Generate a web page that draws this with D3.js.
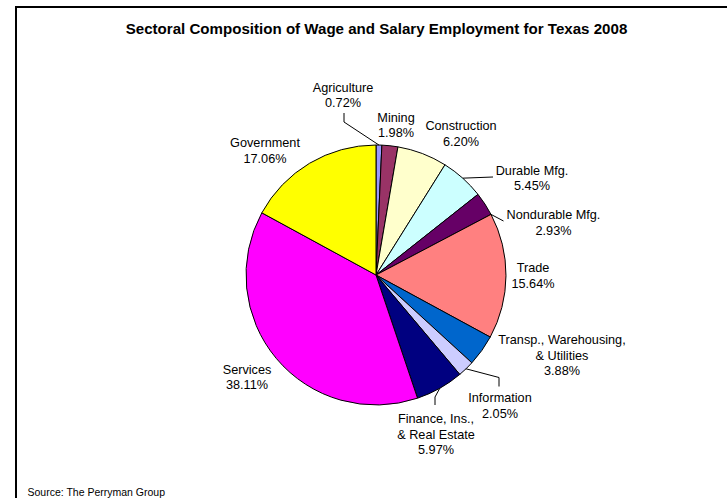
<!DOCTYPE html>
<html>
<head>
<meta charset="utf-8">
<script src="https://cdn.jsdelivr.net/npm/d3@7"></script>
<style>
  html, body { margin: 0; padding: 0; background: #fff; }
  svg { display: block; }
  text { font-family: "Liberation Sans", Arial, sans-serif; fill: #000; }
</style>
</head>
<body>
<svg id="chart" width="727" height="498"></svg>
<script>
// Wage and salary employment shares by sector, Texas 2008 (percent)
const sectors = [
  "Agriculture", "Mining", "Construction", "Durable Mfg.", "Nondurable Mfg.",
  "Trade", "Transp., Warehousing, & Utilities", "Information",
  "Finance, Ins., & Real Estate", "Services", "Government"
];
const shares = [0.72, 1.98, 6.20, 5.45, 2.93, 15.64, 3.88, 2.05, 5.97, 38.11, 17.06];

// Label text lines (name split where it wraps)
const labelLines = [
  ["Agriculture"], ["Mining"], ["Construction"], ["Durable Mfg."], ["Nondurable Mfg."],
  ["Trade"], ["Transp., Warehousing,", "& Utilities"], ["Information"],
  ["Finance, Ins.,", "& Real Estate"], ["Services"], ["Government"]
];

// Slice fills
const palette = [
  "#9999FF", "#993366", "#FFFFCC", "#CCFFFF", "#660066",
  "#FF8080", "#0066CC", "#CCCCFF", "#000080", "#FF00FF", "#FFFF00"
];

// Label placement: offset of each label block centre from the pie centre
const labelOffset = [
  [-33, -180], [20, -150], [85, -141.5], [156, -97], [177.5, -52.5],
  [157, 0.5], [186, 80], [124, 130.5], [60, 159], [-129, 102], [-111, -124.5]
];
// Leader lines: where on the slice's arc they start (0..1 along it) and
// the bend/end points relative to the label centre
const leaders = [
  { t: 0.5, pts: [[1, 27], [1, 18]] },
  null, null,
  { t: 0.5, pts: [[-39, -1]] },
  { t: 1.0, pts: [[-50, -1.5]] },
  null, null,
  { t: 0.5, pts: [[-1, -28], [-1, -19]] },
  { t: 0.5, pts: [[-1, -37], [-1, -29]] },
  null, null
];

const svg = d3.select("#chart");
const W = 727, H = 498;
const cx = 376, cy = 275, R = 130;

// Chart frame (top and left edges)
svg.append("path")
  .attr("d", `M16,${H} L16,7 L${W},7`)
  .attr("fill", "none")
  .attr("stroke", "#000")
  .attr("stroke-width", 2);

// Title
svg.append("text")
  .attr("x", 376.5)
  .attr("y", 33.5)
  .attr("text-anchor", "middle")
  .style("font-size", "15.1px")
  .style("font-weight", "bold")
  .text("Sectoral Composition of Wage and Salary Employment for Texas 2008");

// Source note
svg.append("text")
  .attr("x", 27.5)
  .attr("y", 495.5)
  .style("font-size", "10.5px")
  .text("Source: The Perryman Group");

const data = sectors.map((s, i) => ({ name: s, value: shares[i], i }));

const pie = d3.pie().value(d => d.value).sort(null);
const arcs = pie(data);
const arc = d3.arc().innerRadius(0).outerRadius(R);

const g = svg.append("g").attr("transform", `translate(${cx},${cy})`);

g.selectAll("path.slice")
  .data(arcs)
  .join("path")
  .attr("class", "slice")
  .attr("d", arc)
  .attr("fill", d => palette[d.data.i])
  .attr("stroke", "#000")
  .attr("stroke-width", 1)
  .attr("stroke-linejoin", "round");

// Leader lines
arcs.forEach((a, i) => {
  const L = leaders[i];
  if (!L) return;
  const ang = a.startAngle + (a.endAngle - a.startAngle) * L.t;
  const start = [R * Math.sin(ang), -R * Math.cos(ang)];
  const [ox, oy] = labelOffset[i];
  const pts = [start].concat(L.pts.map(p => [ox + p[0], oy + p[1]]));
  g.append("path")
    .attr("d", d3.line()(pts))
    .attr("fill", "none")
    .attr("stroke", "#000")
    .attr("stroke-width", 1);
});

// Labels: name lines followed by the percentage
const lineH = 15.5;
arcs.forEach((a, i) => {
  const lines = labelLines[i].concat([a.data.value.toFixed(2) + "%"]);
  const [ox, oy] = labelOffset[i];
  const top = oy - (lines.length - 1) * lineH / 2;
  const t = g.append("text")
    .attr("text-anchor", "middle")
    .style("font-size", "12.7px");
  lines.forEach((ln, k) => {
    t.append("tspan")
      .attr("x", ox)
      .attr("y", top + k * lineH + 4.5)
      .text(ln);
  });
});
</script>
</body>
</html>
